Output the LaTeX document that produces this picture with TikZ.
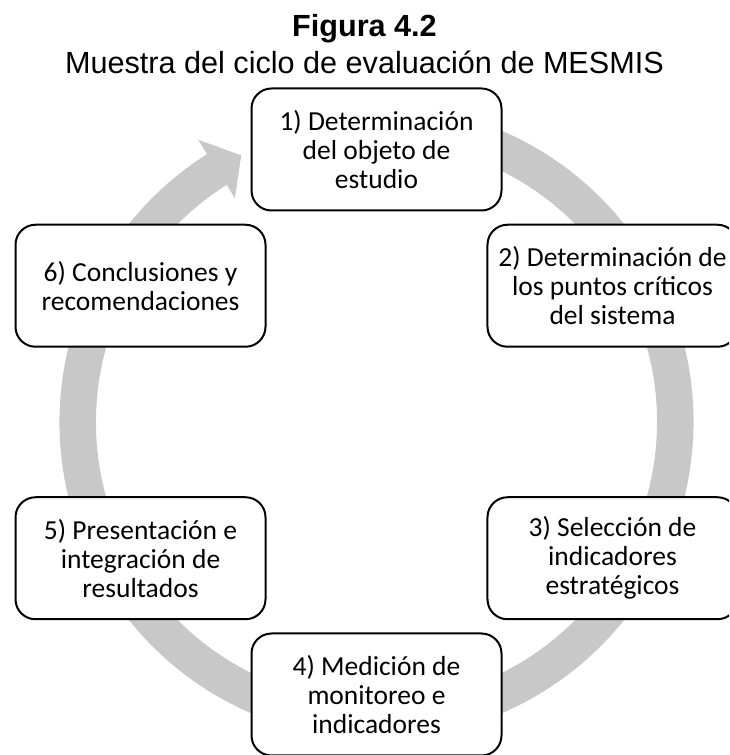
\documentclass[tikz,border=0pt]{standalone}
\usepackage{fontspec}
\usetikzlibrary{calc}
\setmainfont{Carlito}
\newfontfamily\arialfont{Liberation Sans}
\definecolor{ringgray}{RGB}{200,200,200}
\begin{document}
\begin{tikzpicture}[x=1pt,y=1pt,
  stage/.style={draw=black, line width=2pt, rounded corners=20pt, fill=white,
    minimum width=250pt, minimum height=122pt, align=center, inner sep=0pt,
    font=\fontsize{27.5}{29}\selectfont,
    execute at begin node={\rule{0pt}{25pt}}},
  titletext/.style={anchor=base, inner sep=0pt, font=\arialfont\fontsize{30.6}{31}\selectfont},
]
\useasboundingbox (0,0) rectangle (729,755);
\clip (0,0) rectangle (729,755);
\coordinate (C) at (376.5,333);
% circular arrow
\begin{scope}[shift={(C)}]
\fill[ringgray] (80:317) arc[start angle=80, end angle=-237.7, radius=317]
  -- (122.3:334) -- (116.9:299) -- (122.3:265)
  -- (122.3:280.5) arc[start angle=122.3, end angle=440, radius=280.5] -- cycle;
\end{scope}
% stages
\node[stage] (s1) at ($(C)+(90:272.5)$) {1) Determinación\\del objeto de\\estudio};
\node[stage] (s2) at ($(C)+(30:272.5)$) {2) Determinación de\\los puntos críticos\\del sistema};
\node[stage] (s3) at ($(C)+(-30:272.5)$) {3) Selección de\\indicadores\\estratégicos};
\node[stage] (s4) at ($(C)+(-90:272.5)$) {4) Medición de\\monitoreo e\\indicadores};
\node[stage] (s5) at ($(C)+(-150:272.5)$) {5) Presentación e\\integración de\\resultados};
\node[stage] (s6) at ($(C)+(150:272.5)$) {6) Conclusiones y\\recomendaciones};
% titles
\node[titletext, font=\arialfont\bfseries\fontsize{30.6}{31}\selectfont] (title) at (364.5,718) {Figura 4.2};
\node[titletext] (sub) at (364.5,681.5) {Muestra del ciclo de evaluación de MESMIS};
\end{tikzpicture}
\end{document}
